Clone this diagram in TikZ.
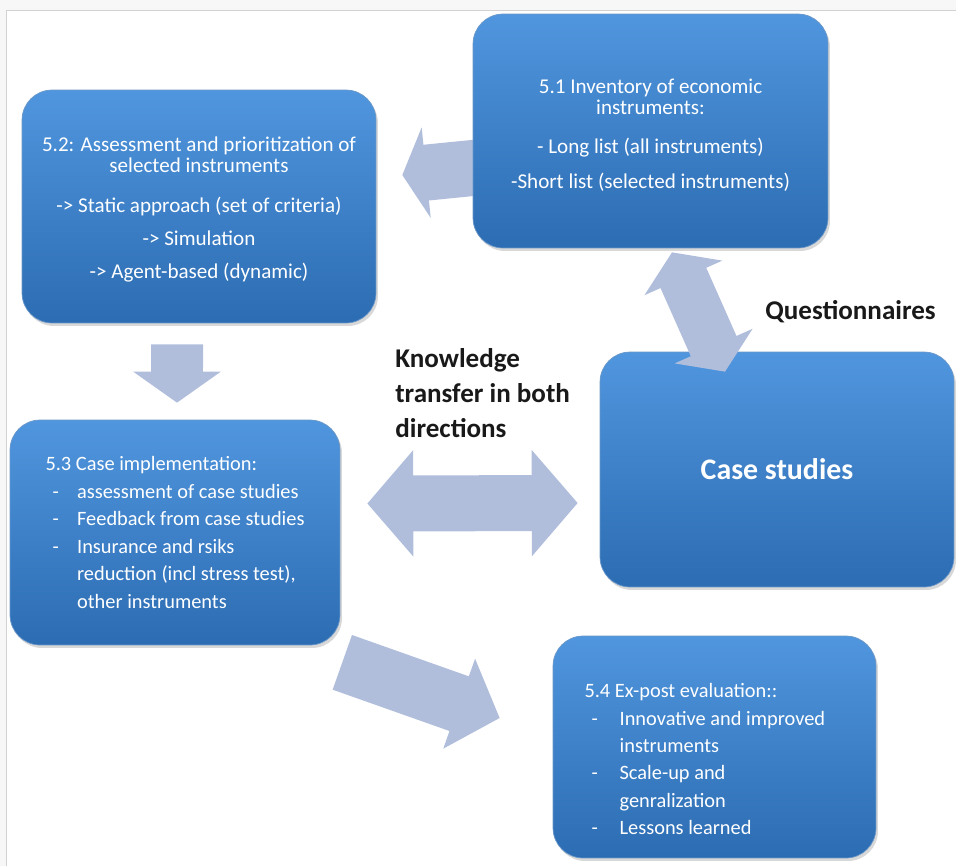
\documentclass[tikz,border=0pt]{standalone}
\usepackage{fontspec}
\setmainfont{Carlito}
\usetikzlibrary{shapes,arrows.meta,positioning,calc,shadows,backgrounds}

\definecolor{boxtop}{RGB}{80,150,222}
\definecolor{boxbot}{RGB}{44,108,178}
\definecolor{arrowfill}{RGB}{176,190,220}

\newcommand{\bul}[1]{\makebox[#1][l]{\hspace{4pt}-}}

\begin{document}
\begin{tikzpicture}[x=0.02cm, y=-0.02cm,
    box/.style={rounded corners=0.6cm, top color=boxtop, bottom color=boxbot, draw=boxbot!70!white,
        drop shadow={opacity=0.3, shadow xshift=0.04cm, shadow yshift=-0.06cm},
        text=white, font=\fontsize{12}{12}\selectfont, inner sep=0pt},
    bigarrow/.style n args={3}{draw=arrowfill, line width=#1, -{Triangle[length=#2, width=#3]}},
    bigdouble/.style n args={3}{draw=arrowfill, line width=#1, {Triangle[length=#2, width=#3]}-{Triangle[length=#2, width=#3]}},
    tag/.style={font=\fontsize{15.4}{20}\selectfont\bfseries, text=black!90, inner sep=0pt}]
    \useasboundingbox (0,0) rectangle (956,866);

    \node (b51) [box, minimum width=7.1cm, minimum height=4.68cm, align=center] at (650.5,131)
        {\rule{0pt}{13pt}5.1 Inventory of economic\\ instruments:\\[10pt] - Long list (all instruments)\\[8pt] -Short list (selected instruments)};
    \node (b52) [box, minimum width=7.08cm, minimum height=4.66cm, align=center] at (199,206.5)
        {\rule{0pt}{12pt}5.2: Assessment and prioritization of\\ selected instruments\\[10.8pt] -> Static approach (set of criteria)\\[6.8pt] -> Simulation\\[6.8pt] -> Agent-based (dynamic)};
    \node (b53) [box, minimum width=6.6cm, minimum height=4.5cm, align=left, font=\fontsize{11.6}{15.6}\selectfont] at (175,532.5)
        {5.3 Case implementation:\\ \bul{18pt}assessment of case studies\\ \bul{18pt}Feedback from case studies\\
         \bul{18pt}Insurance and rsiks\\ \hspace*{18pt}reduction (incl stress test),\\ \hspace*{18pt}other instruments};
    \node (case) [box, minimum width=7.08cm, minimum height=4.7cm, font=\fontsize{17}{20}\selectfont\bfseries] at (777,469.5) {Case studies};
    \node (b54) [box, minimum width=6.46cm, minimum height=4.44cm, align=left, font=\fontsize{11.6}{15.6}\selectfont] at (714.5,747)
        {\rule{0pt}{22pt}5.4 Ex-post evaluation::\\ \bul{20pt}Innovative and improved\rule{11pt}{0pt}\\ \hspace*{20pt}instruments\\
         \bul{20pt}Scale-up and\\ \hspace*{20pt}genralization\\ \bul{20pt}Lessons learned};

    \node (kt) [tag, anchor=west, align=left] at (395,393) {Knowledge\\transfer in both\\directions};
    \node (quest) [tag, anchor=west] at (765,312) {Questionnaires};

    % frame of the screenshot and the arrow under box 5.1
    \begin{pgfonlayer}{background}
    \fill[gray!6] (0,0) rectangle (956,866);
    \fill[white] (6,10) rectangle (956,866);
    \draw[gray!35] (6,866) -- (6,10) -- (956,10);
    \draw[bigarrow={1.12cm}{0.48cm}{1.8cm}] ([xshift=0.4cm,yshift=-0.7cm]b51.west) -- ([xshift=0.52cm,yshift=0.63cm]b52.east);
    \end{pgfonlayer}

    % block arrows
    \draw[bigarrow={1.04cm}{0.62cm}{1.72cm}] ([xshift=-0.44cm,yshift=-0.42cm]b52.south) -- ([xshift=0.04cm,yshift=0.34cm]b53.north);
    \draw[bigdouble={1.12cm}{0.92cm}{2.08cm}] ([xshift=0.54cm,yshift=0.58cm]b53.east) -- ([xshift=-0.44cm,yshift=-0.67cm]case.west);
    \draw[bigdouble={1.0cm}{0.56cm}{1.68cm}] ([xshift=0.43cm,yshift=-0.08cm]b51.south) -- ([xshift=-1.04cm,yshift=-0.4cm]case.north);
    \draw[bigarrow={1.16cm}{0.86cm}{1.86cm}] ([xshift=0.04cm,yshift=-0.34cm]b53.south east) -- ([xshift=-1.06cm,yshift=0.58cm]b54.west);
\end{tikzpicture}
\end{document}
